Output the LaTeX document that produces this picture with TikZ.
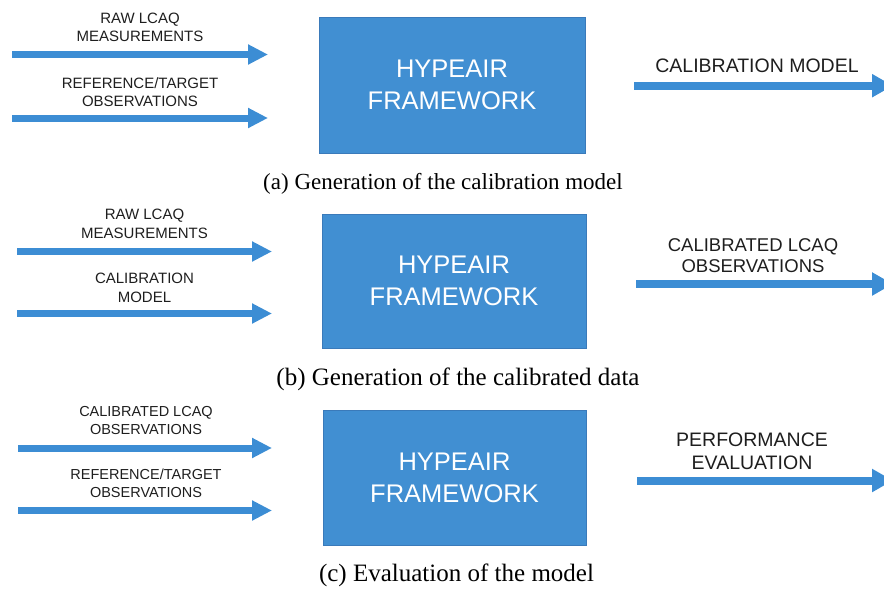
\documentclass[tikz,border=0pt]{standalone}
\usepackage{fontspec}
\setmainfont{Liberation Serif}
\setsansfont{Liberation Sans}
\usetikzlibrary{arrows.meta}
\definecolor{boxblue}{RGB}{65,143,210}
\definecolor{boxedge}{RGB}{58,122,186}
\definecolor{arrblue}{RGB}{60,141,212}
\definecolor{labtext}{RGB}{30,30,30}
\begin{document}
\begin{tikzpicture}[x=1pt,y=-1pt,
  hbox/.style={draw=boxedge,line width=0.7pt,fill=boxblue,text=white,inner sep=0pt,
    align=center,font=\sffamily\fontsize{25.5}{32}\selectfont},
  inarrow/.style={draw=arrblue,line width=7pt,-{Triangle[length=20pt,width=19pt]}},
  outarrow/.style={draw=arrblue,line width=8pt,-{Triangle[length=21pt,width=22pt]}},
  inlabel/.style={inner sep=0pt,align=center,text=labtext,font=\sffamily\fontsize{15}{18.5}\selectfont},
  outlabel/.style={inner sep=0pt,align=center,text=labtext,font=\sffamily\fontsize{19.5}{22}\selectfont},
  caption/.style={inner sep=0pt,font=\fontsize{23}{27}\selectfont}]
\useasboundingbox (0,0) rectangle (884,590);
\clip (0,0) rectangle (884,590);
% ---------- panel (a)
\node[hbox,minimum width=266pt,minimum height=136pt] (boxA) at (452,85) {HYPEAIR\\FRAMEWORK};
\coordinate (a1s) at (12,54.5);  \coordinate (a1e) at (268,54.5);
\coordinate (a2s) at (12,118);   \coordinate (a2e) at (268,118);
\coordinate (aos) at (634,85.7); \coordinate (aoe) at (893,85.7);
\draw[inarrow] (a1s) -- (a1e);
\draw[inarrow] (a2s) -- (a2e);
\draw[outarrow] (aos) -- (aoe);
\node[inlabel] (la1) at (140,27.3) {RAW LCAQ\\MEASUREMENTS};
\node[inlabel] (la2) at (140,92) {REFERENCE/TARGET\\OBSERVATIONS};
\node[outlabel] (lao) at (757,65.5) {CALIBRATION MODEL};
\node[caption] (capA) at (443,184) {(a) Generation of the calibration model};
% ---------- panel (b)
\node[hbox,minimum width=264pt,minimum height=134pt] (boxB) at (454,281) {HYPEAIR\\FRAMEWORK};
\coordinate (b1s) at (17,251.5); \coordinate (b1e) at (272,251.5);
\coordinate (b2s) at (17,313.5); \coordinate (b2e) at (272,313.5);
\coordinate (bos) at (636,284);  \coordinate (boe) at (893,284);
\draw[inarrow] (b1s) -- (b1e);
\draw[inarrow] (b2s) -- (b2e);
\draw[outarrow] (bos) -- (boe);
\node[inlabel] (lb1) at (144.5,224) {RAW LCAQ\\MEASUREMENTS};
\node[inlabel] (lb2) at (144.5,288) {CALIBRATION\\MODEL};
\node[outlabel,font=\sffamily\fontsize{18.5}{21.5}\selectfont] (lbo) at (753,255.8) {CALIBRATED LCAQ\\OBSERVATIONS};
\node[caption,font=\fontsize{25}{29}\selectfont] (capB) at (458,379) {(b) Generation of the calibrated data};
% ---------- panel (c)
\node[hbox,minimum width=263pt,minimum height=135pt] (boxC) at (454.5,477.5) {HYPEAIR\\FRAMEWORK};
\coordinate (c1s) at (18,448);   \coordinate (c1e) at (272,448);
\coordinate (c2s) at (18,510.5); \coordinate (c2e) at (272,510.5);
\coordinate (cos) at (637,480.5); \coordinate (coe) at (893,480.5);
\draw[inarrow] (c1s) -- (c1e);
\draw[inarrow] (c2s) -- (c2e);
\draw[outarrow] (cos) -- (coe);
\node[inlabel,font=\sffamily\fontsize{14.5}{18}\selectfont] (lc1) at (146,420.8) {CALIBRATED LCAQ\\OBSERVATIONS};
\node[inlabel,font=\sffamily\fontsize{14.5}{18}\selectfont] (lc2) at (146,483.3) {REFERENCE/TARGET\\OBSERVATIONS};
\node[outlabel,font=\sffamily\fontsize{19.5}{23}\selectfont] (lco) at (752,451) {PERFORMANCE\\EVALUATION};
\node[caption,font=\fontsize{25}{29}\selectfont] (capC) at (456.5,575) {(c) Evaluation of the model};
\end{tikzpicture}
\end{document}
